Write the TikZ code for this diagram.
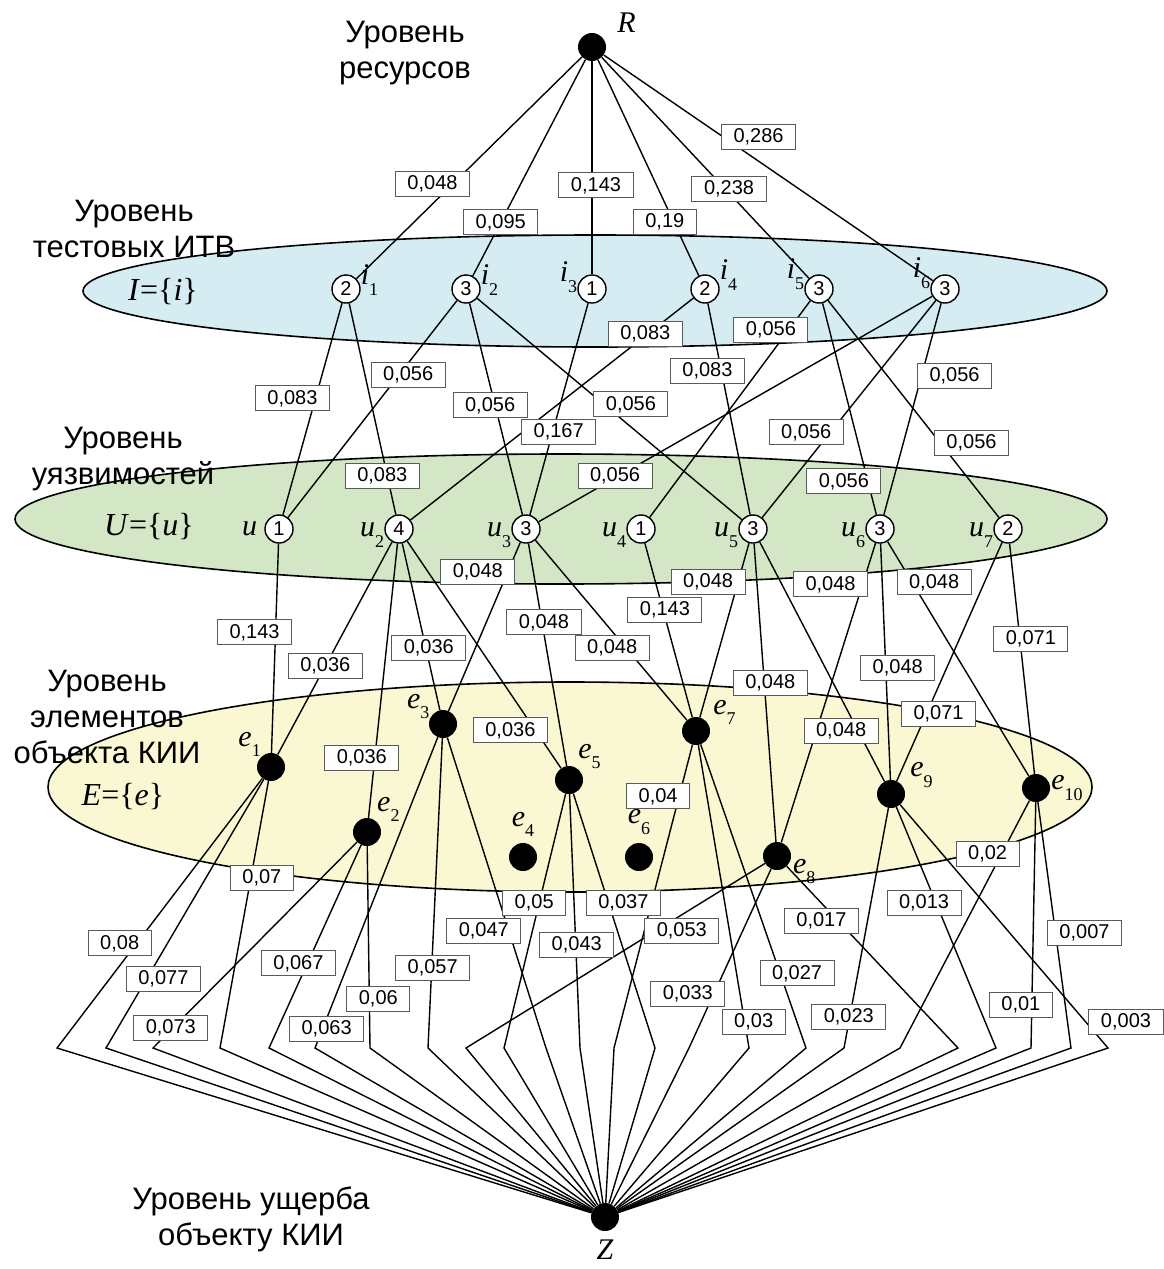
\documentclass[tikz,border=0pt]{standalone}
\usepackage{fontspec}
\setmainfont{Liberation Sans}
\newfontfamily\tms{Liberation Serif}
\usetikzlibrary{positioning}
\definecolor{iblue}{RGB}{213,236,243}
\definecolor{ugreen}{RGB}{211,230,198}
\definecolor{eyellow}{RGB}{250,248,210}
\definecolor{boxgray}{RGB}{90,90,90}
\newcommand\vname[2]{{\tms\itshape #1}\raisebox{-.35em}{\tms\fontsize{18}{18}\selectfont #2}}
\newcommand\levelset[2]{{\tms\fontsize{32}{32}\selectfont\itshape #1\/\upshape=\{\itshape #2\/\upshape\}}}
% edge lists: target/pos/xshift/weight
\newcommand\listRI{i1/.574/-20/{0,048},i2/.752/0/{0,095},i3/.583/4/{0,143},
  i4/.752/-9/{0,19},i5/.595/4/{0,238},i6/.364/35/{0,286}}
\newcommand\listIU{i1/u1/.45/-23/{0,083},i1/u2/.817/-5/{0,083},i2/u1/.342/9/{0,056},
  i2/u3/.483/-5/{0,056},i2/u5/.479/27/{0,056},i3/u3/.608/6/{0,167},
  i4/u2/.163/-2/{0,083},i4/u5/.321/-14/{0,083},i5/u4/.133/-18/{0,056},
  i5/u6/.842/-24/{0,056},i5/u7/.658/31/{0,056},i6/u3/.796/-4/{0,056},
  i6/u5/.608/-24/{0,056},i6/u6/.342/33/{0,056}}
\newcommand\listUE{u1/e1/.424/-21/{0,143},u2/e1/.584/0/{0,036},u2/e2/.782/-13/{0,036},
  u2/e3/.626/3/{0,036},u2/e5/.833/-25/{0,036},u3/e3/.174/-30/{0,048},
  u3/e5/.355/2/{0,048},u3/e7/.599/-14/{0,048},u4/e7/.381/2/{0,143},
  u5/e7/.223/-30/{0,048},u5/e8/.468/6/{0,048},u5/e9/.789/-17/{0,048},
  u6/e8/.138/-32/{0,048},u6/e9/.525/12/{0,048},u6/e10/.174/22/{0,048},
  u7/e9/.717/12/{0,071},u7/e10/.413/11/{0,071}}
\newcommand\listEZ{1/e1/57/.612/-17/{0,08},2/e1/106/.744/17/{0,077},3/e2/153/.903/-2/{0,073},
  4/e1/220/.363/11/{0,07},5/e2/269/.583/-9/{0,067},6/e3/315/.938/4/{0,063},
  7/e2/370/.755/9/{0,06},8/e3/428/.741/1/{0,057},9/e8/466/.365/26/{0,053},
  10/e5/504/.429/-5/{0,05},11/e3/546/.623/-25/{0,047},12/e5/580/.593/1/{0,043},
  13/e7/614/.17/-21/{0,04},14/e5/655/.429/15/{0,037},15/e8/689/.698/-26/{0,033},
  16/e7/749/.915/9/{0,03},17/e7/806/.754/17/{0,027},18/e9/844/.870/-1/{0,023},
  19/e10/900/.215/-14/{0,02},20/e8/958/.302/-17/{0,017},21/e9/996/.398/-12/{0,013},
  22/e10/1031/.823/-11/{0,01},23/e10/1071/.531/29/{0,007},24/e9/1108/.894/40/{0,003}}
\tikzset{
  lvl/.style={align=center,inner sep=0pt,font=\fontsize{31}{36}\selectfont},
  lvlell/.style={draw,line width=1.6pt},
  vnum/.style={circle,draw,fill=white,line width=1.4pt,minimum size=28pt,
    inner sep=0pt,font=\fontsize{20}{20}\selectfont},
  vdot/.style={circle,fill=black,minimum size=28pt,inner sep=0pt},
  vlab/.style={inner sep=0pt,font=\tms\fontsize{30}{30}\selectfont},
  wbox/.style={draw=boxgray,fill=white,line width=1pt,inner xsep=12pt,
    inner ysep=0pt,minimum height=25pt,font=\fontsize{20}{20}\selectfont},
  edge/.style={line width=1.4pt},
}
\begin{document}
\begin{tikzpicture}[x=1pt,y=-1pt]
  \useasboundingbox (0,0) rectangle (1163,1269);
  % level ellipses
  \draw[lvlell,fill=iblue] (595,291) ellipse [x radius=512pt,y radius=56pt];
  \draw[lvlell,fill=ugreen] (561,519) ellipse [x radius=546pt,y radius=65pt];
  \draw[lvlell,fill=eyellow] (570,787) ellipse [x radius=522pt,y radius=105pt];
  % level captions
  \node[lvl] (tres) at (405,53) {Уровень\\ресурсов};
  \node[lvl] (titv) at (134,229) {Уровень\\тестовых ИТВ};
  \node[lvl] (tvul) at (123,459) {Уровень\\уязвимостей};
  \node[lvl] (tel) at (107,717) {Уровень\\элементов\\объекта КИИ};
  \node[lvl] (tdmg) at (251,1219) {Уровень ущерба\\объекту КИИ};
  \node[inner sep=0pt] (sI) at (163,292) {\levelset{I}{i}};
  \node[inner sep=0pt] (sU) at (149,527) {\levelset{U}{u}};
  \node[inner sep=0pt] (sE) at (123,797) {\levelset{E}{e}};
  % vertices
  \node[vdot,label={[vlab,label distance=15pt]30:\itshape R}] (R) at (592,47) {};
  \node[vnum,label={[vlab,yshift=9pt]east:\vname{i}{1}}] (i1) at (346,289) {2};
  \node[vnum,label={[vlab,yshift=9pt]east:\vname{i}{2}}] (i2) at (466,289) {3};
  \node[vnum,label={[vlab,yshift=12pt]west:\vname{i}{3}}] (i3) at (592,289) {1};
  \node[vnum,label={[vlab,yshift=14pt]east:\vname{i}{4}}] (i4) at (705,289) {2};
  \node[vnum,label={[vlab,yshift=15pt]west:\vname{i}{5}}] (i5) at (819,289) {3};
  \node[vnum,label={[vlab,yshift=16pt]west:\vname{i}{6}}] (i6) at (945,289) {3};
  \node[vnum,label={[vlab,label distance=7pt]west:\itshape u}] (u1) at (279,529) {1};
  \node[vnum,label={[vlab,yshift=-6pt]west:\vname{u}{2}}] (u2) at (399,529) {4};
  \node[vnum,label={[vlab,yshift=-6pt]west:\vname{u}{3}}] (u3) at (526,529) {3};
  \node[vnum,label={[vlab,yshift=-6pt]west:\vname{u}{4}}] (u4) at (641,529) {1};
  \node[vnum,label={[vlab,yshift=-6pt]west:\vname{u}{5}}] (u5) at (753,529) {3};
  \node[vnum,label={[vlab,yshift=-6pt]west:\vname{u}{6}}] (u6) at (880,529) {3};
  \node[vnum,label={[vlab,yshift=-6pt]west:\vname{u}{7}}] (u7) at (1008,529) {2};
  \node[vdot,label={[vlab]135:\vname{e}{1}}] (e1) at (271,767) {};
  \node[vdot,label={[vlab]45:\vname{e}{2}}] (e2) at (367,832) {};
  \node[vdot,label={[vlab]160:\vname{e}{3}}] (e3) at (443,724) {};
  \node[vdot,label={[vlab,label distance=6pt]90:\vname{e}{4}}] (e4) at (523,857) {};
  \node[vdot,label={[vlab]50:\vname{e}{5}}] (e5) at (569,780) {};
  \node[vdot,label={[vlab,label distance=8pt]90:\vname{e}{6}}] (e6) at (639,857) {};
  \node[vdot,label={[vlab,label distance=4pt]20:\vname{e}{7}}] (e7) at (696,731) {};
  \node[vdot,label={[vlab,label distance=2pt]-10:\vname{e}{8}}] (e8) at (777,856) {};
  \node[vdot,label={[vlab,label distance=6pt]18:\vname{e}{9}}] (e9) at (891,794) {};
  \node[vdot,label={[vlab,label distance=1pt]0:\vname{e}{10}}] (e10) at (1036,788) {};
  \node[vdot,label={[vlab,label distance=8pt]below:\itshape Z}] (Z) at (605,1217) {};
  % connectors
  \foreach \t/\p/\d/\w in \listRI \draw[edge] (R) -- (\t);
  \foreach \s/\t/\p/\d/\w in \listIU \draw[edge] (\s) -- (\t);
  \foreach \s/\t/\p/\d/\w in \listUE \draw[edge] (\s) -- (\t);
  \foreach \n/\s/\bx/\p/\d/\w in \listEZ {
    \coordinate (b\n) at (\bx,1048);
    \draw[edge] (\s) -- (b\n) -- (Z);
  }
  % weights
  \foreach \t/\p/\d/\w in \listRI
    \path (R) -- (\t) node[wbox,pos=\p,xshift=\d pt] {\w};
  \foreach \s/\t/\p/\d/\w in \listIU
    \path (\s) -- (\t) node[wbox,pos=\p,xshift=\d pt] {\w};
  \foreach \s/\t/\p/\d/\w in \listUE
    \path (\s) -- (\t) node[wbox,pos=\p,xshift=\d pt] {\w};
  \foreach \n/\s/\bx/\p/\d/\w in \listEZ
    \path (\s) -- (b\n) node[wbox,pos=\p,xshift=\d pt] {\w};
\end{tikzpicture}
\end{document}
